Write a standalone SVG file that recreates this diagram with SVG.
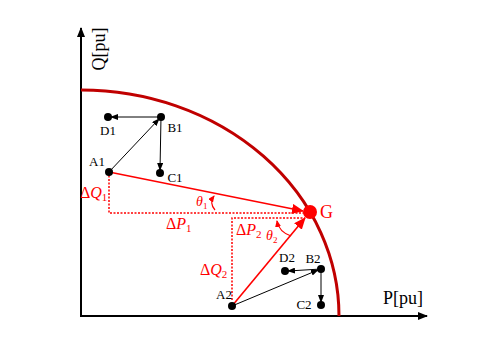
<svg xmlns="http://www.w3.org/2000/svg" width="477" height="340" viewBox="0 0 477 340">
<style>
.ax{stroke:#000;stroke-width:2;fill:none}
.blk{stroke:#000;stroke-width:1;fill:none}
.red{stroke:#f00;stroke-width:1.6;fill:none}
.dot{stroke:#f00;stroke-width:1.5;stroke-dasharray:2,1.5;fill:none}
.pt{fill:#000}
.lb{font-family:"Liberation Serif",serif;font-size:13px;fill:#000}
.rl{font-family:"Liberation Serif",serif;font-size:16px;fill:#f00}
.it{font-style:italic}
</style>
<defs>
<marker id="ab" markerWidth="8" markerHeight="6" refX="7" refY="3" orient="auto" markerUnits="userSpaceOnUse"><path d="M0,0 L8,3 L0,6 Z" fill="#000"/></marker>
<marker id="abig" markerWidth="10" markerHeight="8" refX="9" refY="4" orient="auto" markerUnits="userSpaceOnUse"><path d="M0,0 L10,4 L0,8 Z" fill="#000"/></marker>
<marker id="ar" markerWidth="12" markerHeight="10" refX="11" refY="5" orient="auto" markerUnits="userSpaceOnUse"><path d="M0,0 L12,5 L0,10 Z" fill="#f00"/></marker>
<marker id="ars" markerWidth="7" markerHeight="6" refX="6" refY="3" orient="auto" markerUnits="userSpaceOnUse"><path d="M0,0 L7,3 L0,6 Z" fill="#f00"/></marker>
</defs>
<rect width="477" height="340" fill="#fff"/>
<g id="axes">
<line class="ax" x1="81" y1="317" x2="81" y2="28" marker-end="url(#abig)"/>
<line class="ax" x1="80" y1="316" x2="427" y2="316" marker-end="url(#abig)"/>
<text class="lb" style="font-size:18px" transform="translate(105,49) rotate(-90)" text-anchor="middle">Q[pu]</text>
<text class="lb" style="font-size:18px" x="403" y="304" text-anchor="middle">P[pu]</text>
</g>
<g id="limit">
<path d="M81,90 A258,226 0 0,1 339,316" stroke="#c00000" stroke-width="3" fill="none"/>
</g>
<g id="connectors">
<line class="blk" x1="109" y1="172" x2="159" y2="119" marker-end="url(#ab)"/>
<line class="blk" x1="161" y1="117" x2="111" y2="117" marker-end="url(#ab)"/>
<line class="blk" x1="161" y1="117" x2="160" y2="170" marker-end="url(#ab)"/>
<line class="blk" x1="232" y1="306" x2="318" y2="270" marker-end="url(#ab)"/>
<line class="blk" x1="321" y1="269" x2="288" y2="271" marker-end="url(#ab)"/>
<line class="blk" x1="321" y1="269" x2="321" y2="302" marker-end="url(#ab)"/>
<line class="red" x1="109" y1="172" x2="303" y2="211" marker-end="url(#ar)"/>
<line class="red" x1="232" y1="306" x2="305" y2="218" marker-end="url(#ar)"/>
<polyline class="dot" points="109,172 109,213 305,213"/>
<polyline class="dot" points="232,300 232,218 305,218"/>
<path class="red" style="stroke-width:1.2" d="M215,210 Q209,203 214,196" marker-end="url(#ars)"/>
<path class="red" style="stroke-width:1.2" d="M291,236 Q279,232 277,221" marker-end="url(#ars)"/>
</g>
<g id="A1"><circle class="pt" cx="109" cy="172" r="4"/><text class="lb" x="97" y="166" text-anchor="middle">A1</text></g>
<g id="B1"><circle class="pt" cx="161" cy="117" r="4"/><text class="lb" x="175" y="132" text-anchor="middle">B1</text></g>
<g id="C1"><circle class="pt" cx="160" cy="173" r="4"/><text class="lb" x="175" y="182" text-anchor="middle">C1</text></g>
<g id="D1"><circle class="pt" cx="108" cy="117" r="4"/><text class="lb" x="108" y="135" text-anchor="middle">D1</text></g>
<g id="A2"><circle class="pt" cx="232" cy="306" r="4"/><text class="lb" x="224" y="299" text-anchor="middle">A2</text></g>
<g id="B2"><circle class="pt" cx="321" cy="269" r="4"/><text class="lb" x="313" y="263" text-anchor="middle">B2</text></g>
<g id="C2"><circle class="pt" cx="321" cy="305" r="4"/><text class="lb" x="304" y="309" text-anchor="middle">C2</text></g>
<g id="D2"><circle class="pt" cx="285" cy="271" r="4"/><text class="lb" x="287" y="262" text-anchor="middle">D2</text></g>
<g id="G"><circle cx="310" cy="212" r="7" fill="#f00"/><text class="rl" style="font-size:18px" x="320" y="218">G</text></g>
<g id="labels">
<text class="rl" x="80" y="198">Δ<tspan class="it">Q</tspan><tspan font-size="11" dy="3">1</tspan></text>
<text class="rl" x="166" y="229">Δ<tspan class="it">P</tspan><tspan font-size="11" dy="3">1</tspan></text>
<text class="rl" x="236" y="235">Δ<tspan class="it">P</tspan><tspan font-size="11" dy="3">2</tspan></text>
<text class="rl" x="200" y="275">Δ<tspan class="it">Q</tspan><tspan font-size="11" dy="3">2</tspan></text>
<text class="rl it" style="font-size:14px" x="196" y="206">θ<tspan font-size="9" dy="3" font-style="normal">1</tspan></text>
<text class="rl it" style="font-size:14px" x="266" y="240">θ<tspan font-size="9" dy="3" font-style="normal">2</tspan></text>
</g>
</svg>
